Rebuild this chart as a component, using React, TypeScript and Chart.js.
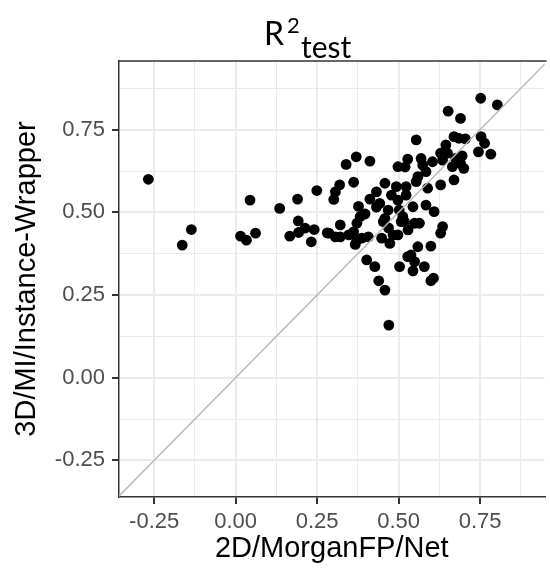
import React, { useEffect, useRef } from "react";
import { Chart, registerables } from "chart.js";

Chart.register(...registerables);

const xValues = [
  -0.268, -0.164, -0.136, 0.044, 0.015, 0.033, 0.061, 0.135, 0.19, 0.249, 0.192, 0.166, 0.193, 0.213, 0.241, 0.232, 0.281,
  0.752, 0.803, 0.652, 0.69, 0.554, 0.67, 0.685, 0.705, 0.753, 0.764, 0.745, 0.783, 0.645, 0.629, 0.65, 0.695, 0.635, 0.675,
  0.69, 0.665, 0.7, 0.569, 0.604, 0.574, 0.528, 0.498, 0.52, 0.412, 0.37, 0.339, 0.584, 0.559, 0.554, 0.589, 0.629, 0.67,
  0.362, 0.319, 0.306, 0.301, 0.458, 0.493, 0.523, 0.432, 0.377, 0.412, 0.442, 0.382, 0.397, 0.372, 0.321, 0.286, 0.306,
  0.321, 0.347, 0.362, 0.372, 0.367, 0.387, 0.407, 0.448, 0.473, 0.483, 0.498, 0.458, 0.468, 0.498, 0.523, 0.513, 0.518,
  0.544, 0.549, 0.564, 0.584, 0.609, 0.635, 0.629, 0.559, 0.599, 0.538, 0.528, 0.549, 0.579, 0.503, 0.544, 0.402, 0.427,
  0.439, 0.458, 0.599, 0.607, 0.47, 0.453, 0.508, 0.432, 0.478, 0.502, 0.529, 0.469,
];

const yValues = [
  0.6, 0.401, 0.448, 0.537, 0.428, 0.416, 0.437, 0.512, 0.54, 0.566, 0.474, 0.428, 0.439, 0.452, 0.448, 0.411, 0.438,
  0.845, 0.825, 0.806, 0.784, 0.719, 0.729, 0.724, 0.722, 0.729, 0.709, 0.683, 0.676, 0.704, 0.679, 0.679, 0.671, 0.658, 0.663,
  0.648, 0.638, 0.633, 0.663, 0.653, 0.643, 0.661, 0.638, 0.637, 0.655, 0.668, 0.645, 0.623, 0.608, 0.593, 0.573, 0.583, 0.598,
  0.591, 0.583, 0.562, 0.539, 0.588, 0.578, 0.578, 0.562, 0.518, 0.54, 0.527, 0.487, 0.495, 0.467, 0.462, 0.437, 0.426,
  0.426, 0.432, 0.441, 0.416, 0.403, 0.422, 0.426, 0.422, 0.406, 0.432, 0.432, 0.482, 0.507, 0.537, 0.552, 0.487, 0.472,
  0.517, 0.467, 0.467, 0.522, 0.502, 0.457, 0.437, 0.396, 0.398, 0.371, 0.366, 0.351, 0.336, 0.336, 0.323, 0.356, 0.336,
  0.293, 0.265, 0.293, 0.301, 0.159, 0.472, 0.472, 0.516, 0.552, 0.507, 0.447, 0.453,
];

const identityLine = [-1, 1.5];

const majorTicks = [-0.25, 0, 0.25, 0.5, 0.75];
const minorTicks = [-0.125, 0.125, 0.375, 0.625, 0.875];

const xRange = [-0.358, 0.948];
const yRange = [-0.3608, 0.9577];

const titleMain = "R";
const titleSup = "2";
const titleSub = "test";
const xTitle = "2D/MorganFP/Net";
const yTitle = "3D/MI/Instance-Wrapper";

const isMajor = (v: number) => majorTicks.some((m) => Math.abs(m - v) < 1e-6);

const panelPlugin = {
  id: "panelExtras",
  afterDraw(chart: any) {
    const { ctx, chartArea } = chart;
    ctx.save();
    ctx.strokeStyle = "#333333";
    ctx.lineWidth = 1.5;
    ctx.beginPath();
    ctx.moveTo(chartArea.left - 0.75, chartArea.top);
    ctx.lineTo(chartArea.right + 2, chartArea.top);
    ctx.stroke();

    ctx.fillStyle = "#000000";
    ctx.textBaseline = "alphabetic";
    ctx.textAlign = "left";
    ctx.font = "32px Lato";
    ctx.fillText(titleMain, 264, 45);
    ctx.font = "22px Lato";
    ctx.fillText(titleSup, 287, 33);
    ctx.font = "30px Lato";
    ctx.fillText(titleSub, 301, 58);
    ctx.restore();
  },
};

function makeScale(range: number[], title: string, isX: boolean) {
  const all = [...majorTicks, ...minorTicks].sort((a, b) => a - b);
  return {
    type: "linear",
    position: isX ? "bottom" : "left",
    min: range[0],
    max: range[1],
    afterBuildTicks: (scale: any) => {
      scale.ticks = all.filter((v) => v >= range[0] && v <= range[1]).map((v) => ({ value: v }));
    },
    afterFit: (scale: any) => {
      if (isX) scale.height = 72;
      else scale.width = 119;
    },
    ticks: {
      autoSkip: false,
      maxRotation: 0,
      minRotation: 0,
      padding: isX ? 5 : 7,
      color: "#4d4d4d",
      font: { family: "Liberation Sans", size: 22 },
      callback: (v: any) => (isMajor(Number(v)) ? Number(v).toFixed(2) : ""),
    },
    grid: {
      color: "#ebebeb",
      lineWidth: (c: any) => (c.tick && isMajor(c.tick.value) ? 2 : 1),
      drawTicks: true,
      tickLength: 7,
      tickColor: (c: any) => (c.tick && isMajor(c.tick.value) ? "#333333" : "rgba(0,0,0,0)"),
      tickWidth: 2,
    },
    border: { display: true, color: "#333333", width: 1.5 },
    title: {
      display: true,
      text: title,
      color: "#000000",
      font: { family: "Liberation Sans", size: 29 },
      padding: isX ? { top: 0, bottom: 3 } : { top: 10, bottom: 0 },
    },
  };
}

export default function App() {
  const canvasRef = useRef<HTMLCanvasElement | null>(null);

  useEffect(() => {
    document.body.style.margin = "0";
    const canvas = canvasRef.current;
    if (!canvas) return;
    const points = xValues.map((x, i) => ({ x, y: yValues[i] }));
    const diag = identityLine.map((v) => ({ x: v, y: v }));
    const chart = new Chart(canvas, {
      type: "scatter",
      data: {
        datasets: [
          {
            type: "line",
            data: diag,
            borderColor: "#b8b8b8",
            borderWidth: 1.5,
            pointRadius: 0,
            fill: false,
            order: 0,
          },
          {
            type: "scatter",
            data: points,
            backgroundColor: "#000000",
            borderWidth: 0,
            pointRadius: 5.4,
            order: 1,
          },
        ],
      } as any,
      options: {
        responsive: false,
        animation: false,
        devicePixelRatio: 1,
        layout: { padding: { top: 61, left: 0, right: 0, bottom: 0 } },
        plugins: { legend: { display: false }, tooltip: { enabled: false }, title: { display: false } },
        scales: {
          x: makeScale(xRange, xTitle, true) as any,
          y: makeScale(yRange, yTitle, false) as any,
        },
      },
      plugins: [panelPlugin],
    });
    return () => chart.destroy();
  }, []);

  return (
    <div style={{ width: 550, height: 569, overflow: "hidden", background: "#ffffff" }}>
      <canvas ref={canvasRef} width={550} height={569} style={{ display: "block" }} />
    </div>
  );
}
